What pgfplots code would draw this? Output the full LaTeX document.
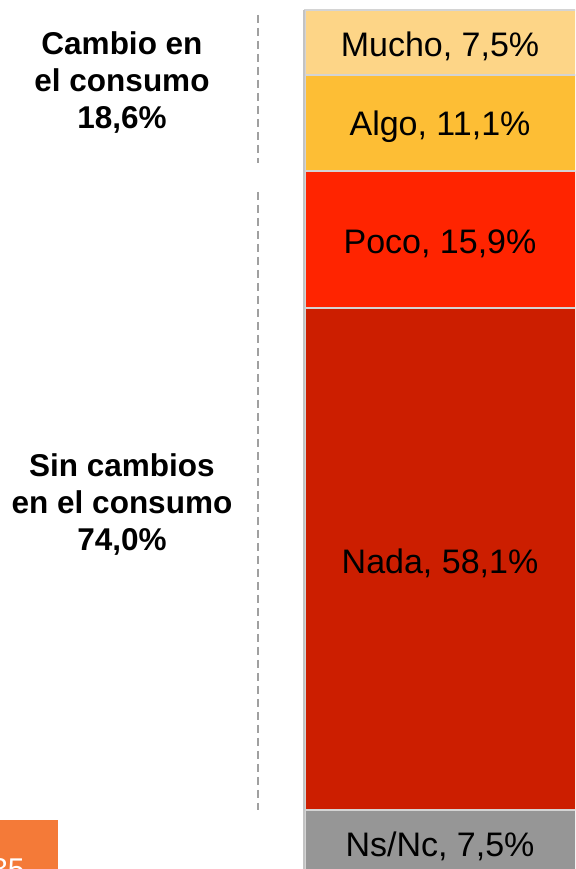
\documentclass[border=0pt]{standalone}
\usepackage{pgfplots}
\pgfplotsset{compat=1.18}
\usepackage{fontspec}
\setmainfont{Liberation Sans}
\definecolor{cMucho}{HTML}{FDD587}
\definecolor{cAlgo}{HTML}{FDBE35}
\definecolor{cPoco}{HTML}{FF2400}
\definecolor{cNada}{HTML}{CC1E00}
\definecolor{cNs}{HTML}{969696}
\definecolor{cSep}{HTML}{D4D4D4}
\definecolor{cOrange}{HTML}{F47A38}
\definecolor{cDash}{HTML}{A0A0A0}
\begin{document}
\begin{tikzpicture}[x=1pt,y=1pt]
\clip (0,0) rectangle (575,869);
\fill[white] (0,0) rectangle (575,869);
\begin{axis}[at={(305pt,-6pt)}, anchor=south west, scale only axis,
  width=270pt, height=865pt, xmin=0, xmax=1, ymin=0, ymax=100.1,
  axis lines=none, clip=false, ybar stacked, bar width=290pt,
  every axis plot/.append style={draw=cSep, line width=1.6pt}]
\addplot[fill=cNs] coordinates {(0.537,7.5)};
\addplot[fill=cNada] coordinates {(0.537,58.1)};
\addplot[fill=cPoco] coordinates {(0.537,15.9)};
\addplot[fill=cAlgo] coordinates {(0.537,11.1)};
\addplot[fill=cMucho] coordinates {(0.537,7.5)};
\coordinate (lNs) at (axis cs:0.5,3.75);
\coordinate (lNada) at (axis cs:0.5,36.55);
\coordinate (lPoco) at (axis cs:0.5,73.55);
\coordinate (lAlgo) at (axis cs:0.5,87.05);
\coordinate (lMucho) at (axis cs:0.5,96.35);
\end{axis}
\begin{scope}[every node/.style={font=\fontsize{34}{40}\selectfont, yshift=-4pt}]
\node at (lNs) {Ns/Nc, 7,5\%};
\node at (lNada) {Nada, 58,1\%};
\node at (lPoco) {Poco, 15,9\%};
\node at (lAlgo) {Algo, 11,1\%};
\node at (lMucho) {Mucho, 7,5\%};
\end{scope}
\draw[cSep!80!gray, line width=2.5pt] (304,0) -- (304,859);
\node[align=center, font=\fontsize{31.5}{37}\selectfont\bfseries] at (122,786) {Cambio en\\el consumo\\18,6\%};
\node[align=center, font=\fontsize{31.5}{37}\selectfont\bfseries] at (122,364) {Sin cambios\\en el consumo\\74,0\%};
\draw[cDash, line width=2pt, dash pattern=on 8pt off 5pt] (258,854) -- (258,706);
\draw[cDash, line width=2pt, dash pattern=on 8pt off 5pt] (258,677) -- (258,59);
\fill[cOrange] (0,0) rectangle (58,49);
\node[white, anchor=base, inner sep=0pt, font=\fontsize{30}{30}\selectfont] at (8,-10.5) {35};
\end{tikzpicture}
\end{document}
